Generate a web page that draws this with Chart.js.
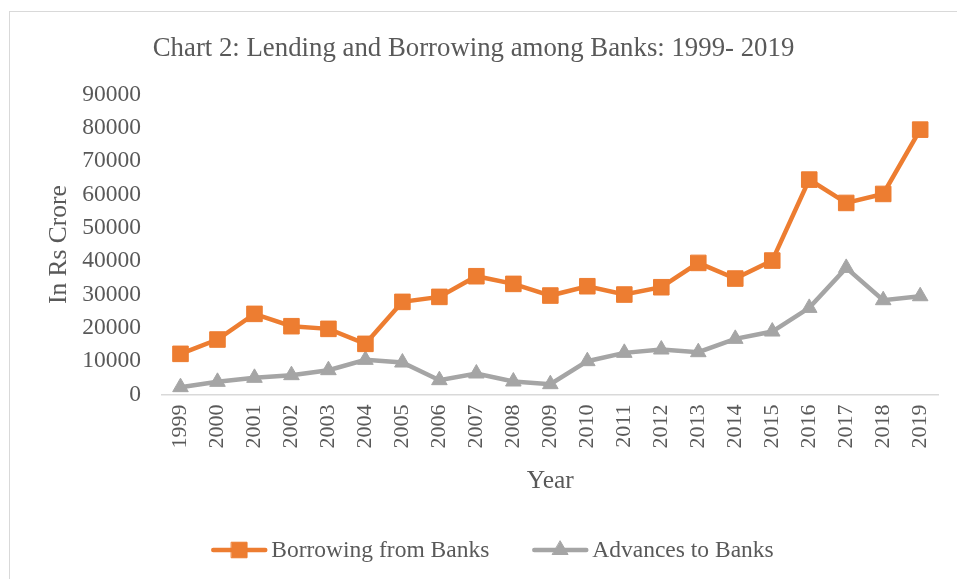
<!DOCTYPE html>
<html><head><meta charset="utf-8">
<script src="https://cdn.jsdelivr.net/npm/chart.js@4.4.0/dist/chart.umd.min.js"></script>
<style>
html,body{margin:0;padding:0;background:#fff;overflow:hidden;width:957px;height:579px;}
#frame{position:absolute;left:9px;top:11px;width:1000px;height:1000px;border:1px solid #d9d9d9;box-sizing:border-box;}
#wrap{position:absolute;left:0;top:0;width:957px;height:579px;}
</style></head><body>
<div id="frame"></div>
<div id="wrap"><canvas id="c" width="957" height="579"></canvas></div>
<script>
const years = ['1999','2000','2001','2002','2003','2004','2005','2006','2007','2008','2009','2010','2011','2012','2013','2014','2015','2016','2017','2018','2019'];
const borrowing = [12200,16500,24200,20500,19700,15200,27800,29300,35500,33200,29700,32500,30000,32200,39500,34800,40200,64500,57500,60200,79500];
const advances = [2200,3800,5000,5800,7300,10400,9600,4300,6300,3900,3100,10000,12500,13500,12700,16700,18900,26000,38000,28300,29500];
const yMin = 0, yMax = 90000, yStep = 10000;
const seriesNames = ['Borrowing from Banks','Advances to Banks'];
const titleText = 'Chart 2: Lending and Borrowing among Banks: 1999- 2019';
const xTitle = 'Year';
const yTitle = 'In Rs Crore';

const ORANGE = '#ED7D31', GRAY = '#A5A5A5', TEXT = '#595959', AXIS = '#D9D9D9';
const FAM = '"Liberation Serif", "Times New Roman", serif';
const LEGEND_CX = 492.5, LEGEND_Y = 550;

const legendPlugin = {
  id: 'customLegend',
  afterDraw(chart) {
    const ctx = chart.ctx;
    ctx.save();
    ctx.font = '23.5px ' + FAM;
    const lineLen = 56, textGap = 4, itemGap = 43;
    const items = chart.data.datasets.map(ds => ({ds, w: lineLen + textGap + ctx.measureText(ds.label).width}));
    const total = items.reduce((a, b) => a + b.w, 0) + itemGap * (items.length - 1);
    let x = LEGEND_CX - total / 2;
    const y = LEGEND_Y;
    items.forEach(it => {
      const ds = it.ds;
      ctx.strokeStyle = ds.borderColor;
      ctx.lineWidth = ds.borderWidth;
      ctx.lineCap = 'round';
      ctx.beginPath();
      ctx.moveTo(x + 2, y);
      ctx.lineTo(x + lineLen - 2, y);
      ctx.stroke();
      ctx.fillStyle = ds.backgroundColor;
      ctx.strokeStyle = ds.borderColor;
      ctx.lineWidth = 1;
      Chart.helpers.drawPoint(ctx, {pointStyle: ds.pointStyle, radius: ds.pointRadius, rotation: 0, borderWidth: 1}, x + lineLen / 2, y);
      ctx.fillStyle = TEXT;
      ctx.textBaseline = 'middle';
      ctx.textAlign = 'left';
      ctx.fillText(ds.label, x + lineLen + textGap, y + 1);
      x += it.w + itemGap;
    });
    ctx.restore();
  }
};

new Chart(document.getElementById('c'), {
  type: 'line',
  data: {
    labels: years,
    datasets: [
      {label: seriesNames[0], data: borrowing, borderColor: ORANGE, backgroundColor: ORANGE,
       borderWidth: 4.5, pointStyle: 'rect', pointRadius: 11, pointHoverRadius: 11,
       pointBackgroundColor: ORANGE, pointBorderColor: ORANGE, pointBorderWidth: 1, tension: 0},
      {label: seriesNames[1], data: advances, borderColor: GRAY, backgroundColor: GRAY,
       borderWidth: 4.5, pointStyle: 'triangle', pointRadius: 9, pointHoverRadius: 9,
       pointBackgroundColor: GRAY, pointBorderColor: GRAY, pointBorderWidth: 1, tension: 0}
    ]
  },
  options: {
    responsive: false,
    animation: false,
    devicePixelRatio: 1,
    layout: {padding: {left: 7, right: 17, top: 10, bottom: 74.5}},
    plugins: {
      legend: {display: false},
      tooltip: {enabled: false},
      title: {display: true, text: titleText, color: TEXT,
              font: {family: FAM, size: 26.8, weight: 'normal'}, padding: {top: 23, bottom: 29.5}}
    },
    scales: {
      x: {
        offset: true,
        grid: {display: false, drawTicks: false, offset: true},
        border: {display: true, color: AXIS, width: 1.5},
        ticks: {autoSkip: false, minRotation: 90, maxRotation: 90, padding: 10, color: TEXT,
                font: {family: FAM, size: 22}},
        title: {display: true, text: xTitle, color: TEXT, font: {family: FAM, size: 25.5}, padding: {top: 0, bottom: 8}},
        afterFit(s) { s.height = 110; }
      },
      y: {
        min: yMin, max: yMax,
        grid: {display: false, drawTicks: false},
        border: {display: false},
        ticks: {stepSize: yStep, padding: 21, color: TEXT, font: {family: FAM, size: 23.5},
                callback: v => String(v)},
        title: {display: true, text: yTitle, color: TEXT, font: {family: FAM, size: 25.5}, padding: {top: 37, bottom: 0}},
        afterFit(s) { s.width = 155; }
      }
    }
  },
  plugins: [legendPlugin]
});
</script>
</body></html>
